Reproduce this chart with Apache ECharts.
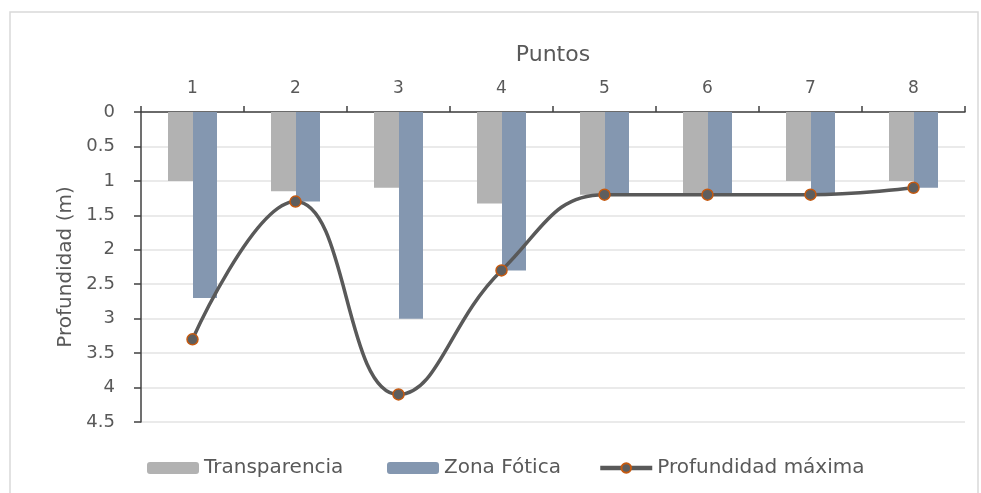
<!DOCTYPE html>
<html>
<head>
<meta charset="utf-8">
<script src="https://cdn.jsdelivr.net/npm/echarts@6/dist/echarts.min.js"></script>
<style>
  html, body { margin: 0; padding: 0; background: #ffffff; }
  #chart { width: 981px; height: 493px; }
</style>
</head>
<body>
<div id="chart"></div>
<script>
// Sampling points along the transect
const puntos = ['1', '2', '3', '4', '5', '6', '7', '8'];

// Depths in metres
const transparencia = [1.0, 1.15, 1.1, 1.33, 1.2, 1.2, 1.0, 1.0];
const zonaFotica = [2.7, 1.3, 3.0, 2.3, 1.2, 1.2, 1.2, 1.1];
const profundidadMaxima = [3.3, 1.3, 4.1, 2.3, 1.2, 1.2, 1.2, 1.1];

const textColor = '#595959';
const fontFamily = '"DejaVu Sans", "Noto Sans", sans-serif';

// One legend block per series so each entry sits at its own x offset
function legendBlock(left, item) {
  return {
    left: left,
    top: 453,
    itemWidth: 52,
    itemHeight: 12,
    textStyle: { fontSize: 20, color: textColor, fontFamily: fontFamily },
    data: [item]
  };
}

const chart = echarts.init(document.getElementById('chart'), null, { renderer: 'canvas' });

chart.setOption({
  backgroundColor: '#ffffff',
  animation: false,
  textStyle: { fontFamily: fontFamily, color: textColor },
  graphic: [{
    type: 'rect',
    shape: { x: 10, y: 12, width: 968, height: 500 },
    style: { fill: 'none', stroke: '#d9d9d9', lineWidth: 1.5 },
    silent: true
  }],
  grid: { left: 141, top: 112, width: 824, height: 310 },
  legend: [
    legendBlock(142, { name: 'Transparencia' }),
    legendBlock(382, { name: 'Zona Fótica' }),
    legendBlock(593, { name: 'Profundidad máxima', lineStyle: { width: 4.5, color: '#595959' } })
  ],
  xAxis: {
    type: 'category',
    position: 'top',
    data: puntos,
    name: 'Puntos',
    nameLocation: 'middle',
    nameGap: 46,
    nameTextStyle: { fontSize: 22, color: textColor, fontFamily: fontFamily },
    axisLine: { lineStyle: { color: '#404040', width: 1.5 } },
    axisTick: { show: true, length: 6, lineStyle: { color: '#404040', width: 1.5 } },
    axisLabel: { fontSize: 17, color: textColor, margin: 15 },
    splitLine: { show: false }
  },
  yAxis: {
    type: 'value',
    inverse: true,
    min: 0,
    max: 4.5,
    interval: 0.5,
    name: 'Profundidad (m)',
    nameLocation: 'middle',
    nameGap: 65,
    nameTextStyle: { fontSize: 20, color: textColor, fontFamily: fontFamily },
    axisLine: { show: true, lineStyle: { color: '#404040', width: 1.5 } },
    axisTick: { show: true, length: 7, lineStyle: { color: '#404040', width: 1.5 } },
    axisLabel: { fontSize: 18, color: textColor, margin: 26 },
    splitLine: { lineStyle: { color: '#e3e3e3', width: 1.5 } }
  },
  series: [
    {
      name: 'Transparencia',
      type: 'bar',
      data: transparencia,
      barWidth: 25,
      barGap: '0%',
      itemStyle: { color: '#b2b2b2' }
    },
    {
      name: 'Zona Fótica',
      type: 'bar',
      data: zonaFotica,
      barWidth: 24,
      barGap: '0%',
      itemStyle: { color: '#8497b0' }
    },
    {
      name: 'Profundidad máxima',
      type: 'line',
      data: profundidadMaxima,
      smooth: 0.45,
      symbol: 'circle',
      symbolSize: 11,
      lineStyle: { color: '#595959', width: 3.5 },
      itemStyle: { color: '#5e5e5e', borderColor: '#c55a11', borderWidth: 1.5 },
      z: 5
    }
  ]
});
</script>
</body>
</html>
